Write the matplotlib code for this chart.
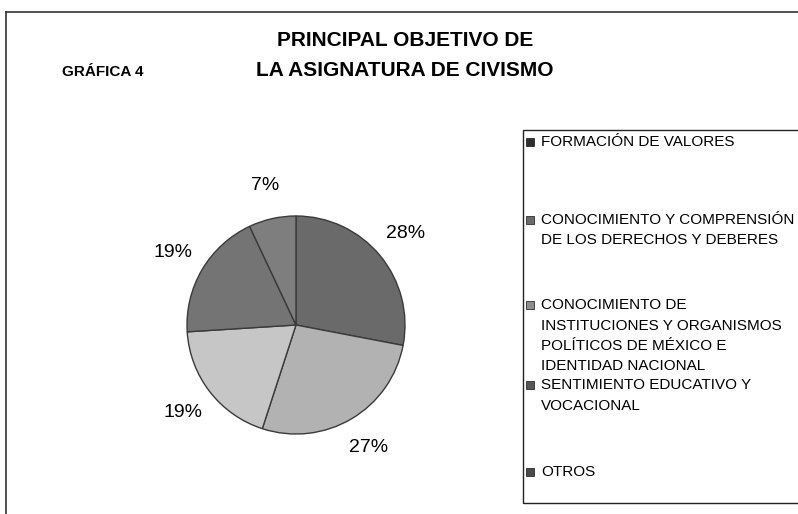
import matplotlib
matplotlib.use("Agg")
import matplotlib.pyplot as plt
from matplotlib.patches import Rectangle
from matplotlib.lines import Line2D

plt.rcParams['font.family'] = ['Liberation Sans', 'DejaVu Sans']

# data
categories = ["FORMACIÓN DE VALORES",
              "CONOCIMIENTO Y COMPRENSIÓN\nDE LOS DERECHOS Y DEBERES",
              "CONOCIMIENTO DE\nINSTITUCIONES Y ORGANISMOS\nPOLÍTICOS DE MÉXICO E\nIDENTIDAD NACIONAL",
              "SENTIMIENTO EDUCATIVO Y\nVOCACIONAL",
              "OTROS"]
values = [28, 27, 19, 19, 7]
title_lines = ["PRINCIPAL OBJETIVO DE", "LA ASIGNATURA DE CIVISMO"]
tag = "GRÁFICA 4"

slice_colors = ['#6a6a6a', '#b2b2b2', '#c6c6c6', '#747474', '#7e7e7e']
key_colors = ['#2e2e2e', '#6a6a6a', '#8c8c8c', '#555555', '#4a4a4a']

W, H = 798, 514
fig = plt.figure(figsize=(W / 100, H / 100), dpi=100)

def fx(px):
    return px / W

def fy(py):
    return 1 - py / H

# outer frame (only top and left edges are in view)
fig.add_artist(Line2D([fx(6), fx(798)], [fy(12), fy(12)], color='#333333', lw=1.2))
fig.add_artist(Line2D([fx(6), fx(6)], [fy(12), fy(514)], color='#333333', lw=1.2))

for i, line in enumerate(title_lines):
    fig.text(fx(405), fy(40 + i * 30), line, ha='center', va='center',
             fontsize=15, fontweight='bold')
fig.text(fx(143), fy(72), tag, ha='right', va='center', fontsize=11,
         fontweight='bold')

# pie
cx, cy, r = 296, 325, 109
ax = fig.add_axes([fx(cx - r), fy(cy + r), 2 * r / W, 2 * r / H])
wedges, texts, autotexts = ax.pie(values, colors=slice_colors, startangle=90,
                                  counterclock=False, autopct='%d%%',
                                  pctdistance=1.31,
                                  wedgeprops=dict(edgecolor='#3a3a3a', linewidth=1))
for t in autotexts:
    t.set_fontsize(14)
ax.set_xlim(-1, 1)
ax.set_ylim(-1, 1)

# legend box
fig.add_artist(Rectangle((fx(523), fy(503)), fx(798) - fx(523) + 0.01, fy(130) - fy(503),
                         facecolor='none', edgecolor='#222222', lw=1))
legend_first_y = [142, 220, 305, 385, 472]
for label, col, y0 in zip(categories, key_colors, legend_first_y):
    fig.add_artist(Rectangle((fx(526), fy(y0 + 4)), fx(8), 8 / H,
                             facecolor=col, edgecolor='#111111', lw=0.5))
    for k, part in enumerate(label.split('\n')):
        fig.text(fx(541), fy(y0 + k * 20.5), part, ha='left', va='center',
                 fontsize=11)

fig.savefig('out.png', dpi=100)
